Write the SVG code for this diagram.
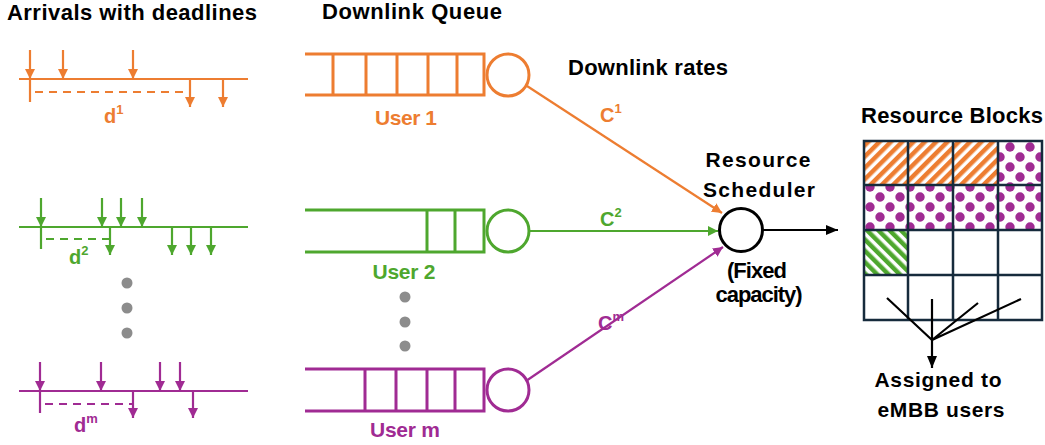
<svg xmlns="http://www.w3.org/2000/svg" width="1045" height="445" viewBox="0 0 1045 445">
<defs>
<style>
text{font-family:"Liberation Sans",Arial,sans-serif;font-weight:bold;}
.t{font-size:22px;fill:#000;}
.s{font-size:21px;fill:#000;}
.o{stroke:#ed7d31;fill:none;stroke-width:2.2;}
.g{stroke:#4ea72e;fill:none;stroke-width:2.2;}
.p{stroke:#a02b93;fill:none;stroke-width:2.2;}
.oq{stroke:#ed7d31;fill:none;stroke-width:3;}
.gq{stroke:#4ea72e;fill:none;stroke-width:3;}
.pq{stroke:#a02b93;fill:none;stroke-width:3;}
.dash{stroke-dasharray:8,6;}
.ot{fill:#ed7d31;font-size:20px;}
.gt{fill:#4ea72e;font-size:20px;}
.pt{fill:#a02b93;font-size:20px;}
.u{font-size:21px;}
.grid{stroke:#162b3c;stroke-width:2.5;fill:none;}
.dot{fill:#8c8c8c;}
</style>
<marker id="ao" markerUnits="userSpaceOnUse" markerWidth="12" markerHeight="12" refX="10" refY="5" orient="auto"><path d="M0,0 L10,5 L0,10 Z" fill="#ed7d31"/></marker>
<marker id="ag" markerUnits="userSpaceOnUse" markerWidth="12" markerHeight="12" refX="10" refY="5" orient="auto"><path d="M0,0 L10,5 L0,10 Z" fill="#4ea72e"/></marker>
<marker id="ap" markerUnits="userSpaceOnUse" markerWidth="12" markerHeight="12" refX="10" refY="5" orient="auto"><path d="M0,0 L10,5 L0,10 Z" fill="#a02b93"/></marker>
<marker id="ak" markerUnits="userSpaceOnUse" markerWidth="14" markerHeight="12" refX="12" refY="5" orient="auto"><path d="M0,0 L12,5 L0,10 Z" fill="#000"/></marker>
<pattern id="stO" patternUnits="userSpaceOnUse" width="8" height="8" patternTransform="rotate(45)"><rect width="8" height="8" fill="#fff"/><rect width="4.5" height="8" fill="#ed7d31"/></pattern>
<pattern id="stG" patternUnits="userSpaceOnUse" width="8" height="8" patternTransform="rotate(-45)"><rect width="8" height="8" fill="#fff"/><rect width="4.5" height="8" fill="#4ea72e"/></pattern>
<pattern id="dotP" patternUnits="userSpaceOnUse" width="20" height="20" x="864" y="141"><rect width="20" height="20" fill="#fff"/><circle cx="6" cy="6" r="4.7" fill="#a02b93"/><circle cx="16" cy="16" r="4.7" fill="#a02b93"/><circle cx="-4" cy="16" r="4.7" fill="#a02b93"/><circle cx="16" cy="-4" r="4.7" fill="#a02b93"/></pattern>
</defs>
<rect width="1045" height="445" fill="#fff"/>

<g id="titles">
<text class="t" x="7" y="20" textLength="250">Arrivals with deadlines</text>
<text class="t" x="322" y="19" textLength="180">Downlink Queue</text>
<text class="t" x="568" y="75" textLength="160">Downlink rates</text>
<text class="t" x="861" y="123" textLength="182">Resource Blocks</text>
</g>

<g id="arrivals1">
<line class="o" x1="19" y1="79" x2="248" y2="79"/>
<line class="o" x1="30" y1="50" x2="30" y2="79" marker-end="url(#ao)"/>
<line class="o" x1="63" y1="50" x2="63" y2="79" marker-end="url(#ao)"/>
<line class="o" x1="133" y1="50" x2="133" y2="79" marker-end="url(#ao)"/>
<line class="o" x1="30" y1="79" x2="30" y2="102"/>
<line class="o dash" x1="35" y1="92" x2="190" y2="92"/>
<line class="o" x1="190" y1="79" x2="190" y2="107" marker-end="url(#ao)"/>
<line class="o" x1="223" y1="79" x2="223" y2="107" marker-end="url(#ao)"/>
<text class="ot" x="104" y="123">d<tspan font-size="13" dy="-9">1</tspan></text>
</g>

<g id="arrivals2">
<line class="g" x1="19" y1="227" x2="248" y2="227"/>
<line class="g" x1="41" y1="198" x2="41" y2="227" marker-end="url(#ag)"/>
<line class="g" x1="102" y1="198" x2="102" y2="227" marker-end="url(#ag)"/>
<line class="g" x1="121" y1="198" x2="121" y2="227" marker-end="url(#ag)"/>
<line class="g" x1="142" y1="198" x2="142" y2="227" marker-end="url(#ag)"/>
<line class="g" x1="41" y1="227" x2="41" y2="249"/>
<line class="g dash" x1="46" y1="239" x2="110" y2="239"/>
<line class="g" x1="110" y1="227" x2="110" y2="255" marker-end="url(#ag)"/>
<line class="g" x1="172" y1="227" x2="172" y2="255" marker-end="url(#ag)"/>
<line class="g" x1="191" y1="227" x2="191" y2="255" marker-end="url(#ag)"/>
<line class="g" x1="211" y1="227" x2="211" y2="255" marker-end="url(#ag)"/>
<text class="gt" x="69" y="264">d<tspan font-size="13" dy="-9">2</tspan></text>
</g>

<g id="arrivalsm">
<line class="p" x1="19" y1="391" x2="248" y2="391"/>
<line class="p" x1="40" y1="362" x2="40" y2="391" marker-end="url(#ap)"/>
<line class="p" x1="101" y1="362" x2="101" y2="391" marker-end="url(#ap)"/>
<line class="p" x1="160" y1="362" x2="160" y2="391" marker-end="url(#ap)"/>
<line class="p" x1="180" y1="362" x2="180" y2="391" marker-end="url(#ap)"/>
<line class="p" x1="40" y1="391" x2="40" y2="413"/>
<line class="p dash" x1="45" y1="404" x2="133" y2="404"/>
<line class="p" x1="133" y1="391" x2="133" y2="418" marker-end="url(#ap)"/>
<line class="p" x1="193" y1="391" x2="193" y2="418" marker-end="url(#ap)"/>
<text class="pt" x="74" y="432">d<tspan font-size="13" dy="-9">m</tspan></text>
</g>

<g id="ellipsis">
<circle class="dot" cx="127" cy="283" r="5.5"/>
<circle class="dot" cx="127" cy="308" r="5.5"/>
<circle class="dot" cx="127" cy="333" r="5.5"/>
<circle class="dot" cx="405" cy="297" r="5.5"/>
<circle class="dot" cx="405" cy="322" r="5.5"/>
<circle class="dot" cx="405" cy="346" r="5.5"/>
</g>

<g id="queue1">
<path class="oq" d="M305,54 H484 V95 H305"/>
<path class="oq" d="M333,54 V95 M366,54 V95 M397,54 V95 M428,54 V95 M457,54 V95"/>
<circle class="oq" cx="508" cy="75" r="21"/>
<text class="ot u" x="406" y="125" text-anchor="middle" textLength="62">User 1</text>
</g>

<g id="queue2">
<path class="gq" d="M305,210 H484 V252 H305"/>
<path class="gq" d="M427,210 V252 M455,210 V252"/>
<circle class="gq" cx="508" cy="231" r="21"/>
<text class="gt u" x="404" y="279" text-anchor="middle" textLength="63">User 2</text>
</g>

<g id="queuem">
<path class="pq" d="M305,369 H484 V411 H305"/>
<path class="pq" d="M365,369 V411 M396,369 V411 M427,369 V411 M455,369 V411"/>
<circle class="pq" cx="508" cy="390" r="21"/>
<text class="pt u" x="405" y="437" text-anchor="middle" textLength="70">User m</text>
</g>

<g id="scheduler">
<circle cx="741" cy="230" r="21.5" fill="#fff" stroke="#000" stroke-width="3"/>
<text class="s" x="758" y="167" text-anchor="middle" textLength="105">Resource</text>
<text class="s" x="759" y="197" text-anchor="middle" textLength="112">Scheduler</text>
<text class="t" x="757" y="278" text-anchor="middle" font-size="18" textLength="60">(Fixed</text>
<text class="t" x="759" y="302" text-anchor="middle" font-size="18" textLength="87">capacity)</text>
</g>

<g id="connectors">
<line class="o" x1="527" y1="86" x2="722" y2="213" marker-end="url(#ao)"/>
<line class="g" x1="529" y1="231" x2="718" y2="231" marker-end="url(#ag)"/>
<line class="p" x1="526" y1="381" x2="723" y2="247" marker-end="url(#ap)"/>
<line x1="763" y1="230" x2="838" y2="230" stroke="#000" stroke-width="2" marker-end="url(#ak)"/>
<text class="ot" x="600" y="122">C<tspan font-size="13" dy="-9">1</tspan></text>
<text class="gt" x="600" y="226">C<tspan font-size="13" dy="-9">2</tspan></text>
<text class="pt" x="598" y="330">C<tspan font-size="13" dy="-9">m</tspan></text>
</g>

<g id="resource-blocks">
<rect x="864" y="141" width="44" height="44" fill="url(#stO)"/>
<rect x="908" y="141" width="45" height="44" fill="url(#stO)"/>
<rect x="953" y="141" width="45" height="44" fill="url(#stO)"/>
<rect x="998" y="141" width="44" height="44" fill="url(#dotP)"/>
<rect x="864" y="185" width="178" height="45" fill="url(#dotP)"/>
<rect x="864" y="230" width="44" height="45" fill="url(#stG)"/>
<path class="grid" d="M864,141 H1042 V320 H864 Z M864,185 H1042 M864,230 H1042 M864,275 H1042 M908,141 V320 M953,141 V320 M998,141 V320"/>
<path d="M887,298 L932,340 M932,299 L932,340 M978,303 L932,340 M1021,299 L932,340" stroke="#000" stroke-width="2.2" fill="none"/>
<line x1="932" y1="340" x2="932" y2="368" stroke="#000" stroke-width="2.2" marker-end="url(#ak)"/>
<text class="s" x="938" y="387" text-anchor="middle" textLength="127">Assigned to</text>
<text class="s" x="941" y="417" text-anchor="middle" textLength="127">eMBB users</text>
</g>
</svg>
